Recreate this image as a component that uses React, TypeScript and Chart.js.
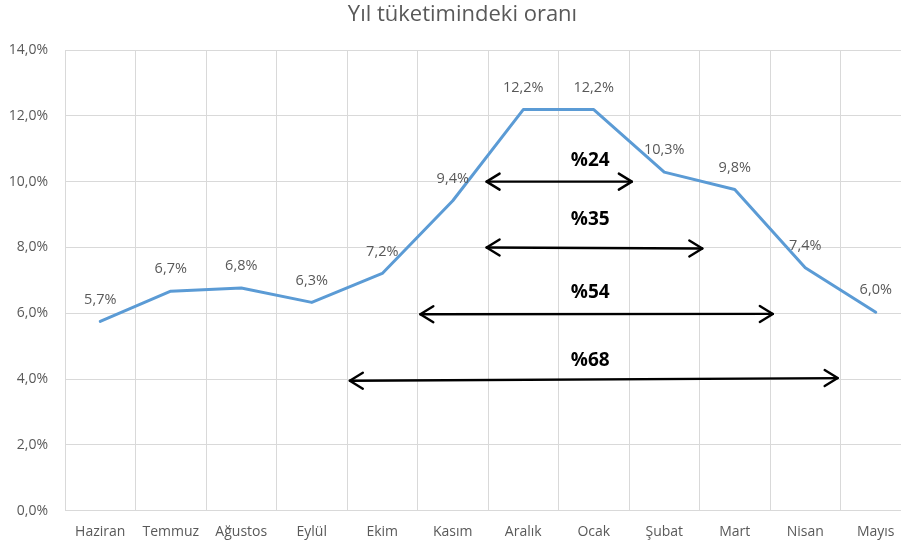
import React, { useEffect, useRef } from "react";
import { Chart, registerables } from "chart.js";

Chart.register(...registerables);

const titleText = "Yıl tüketimindeki oranı";
const months = ["Haziran", "Temmuz", "Ağustos", "Eylül", "Ekim", "Kasım", "Aralık", "Ocak", "Şubat", "Mart", "Nisan", "Mayıs"];
const shares = [5.75, 6.67, 6.77, 6.33, 7.21, 9.42, 12.19, 12.19, 10.29, 9.76, 7.38, 6.03];
const shareLabels = ["5,7%", "6,7%", "6,8%", "6,3%", "7,2%", "9,4%", "12,2%", "12,2%", "10,3%", "9,8%", "7,4%", "6,0%"];
const yTicks = [0, 2, 4, 6, 8, 10, 12, 14];

const arrowLabels = ["%24", "%35", "%54", "%68"];
const arrowStartX = [5.48, 5.48, 4.54, 3.54];
const arrowEndX = [7.54, 8.54, 9.54, 10.46];
const arrowStartY = [10.0, 8.0, 5.97, 3.95];
const arrowEndY = [10.0, 7.97, 5.98, 4.03];
const arrowLabelX = [6.95, 6.95, 6.95, 6.95];
const arrowLabelY = [10.64, 8.86, 6.63, 4.57];

const GREY = "#595959";
const FONT = "'Open Sans', sans-serif";

const titlePlugin = {
  id: "customTitle",
  afterDraw(chart: any) {
    const ctx = chart.ctx;
    ctx.save();
    ctx.font = `22px ${FONT}`;
    ctx.fillStyle = GREY;
    ctx.textAlign = "center";
    ctx.textBaseline = "middle";
    ctx.fillText(titleText, 462.5, 15);
    ctx.restore();
  },
};

const labelsPlugin = {
  id: "pointLabels",
  afterDatasetsDraw(chart: any) {
    const ctx = chart.ctx;
    const meta = chart.getDatasetMeta(0);
    ctx.save();
    ctx.font = `14.5px ${FONT}`;
    ctx.fillStyle = GREY;
    ctx.textAlign = "center";
    ctx.textBaseline = "middle";
    meta.data.forEach((pt: any, i: number) => {
      ctx.fillText(shareLabels[i], pt.x, pt.y - 22);
    });
    ctx.restore();
  },
};

const arrowsPlugin = {
  id: "arrows",
  afterDatasetsDraw(chart: any) {
    const ctx = chart.ctx;
    const xs = chart.scales.x;
    const ys = chart.scales.y;
    ctx.save();
    ctx.strokeStyle = "#000000";
    ctx.fillStyle = "#000000";
    ctx.lineWidth = 2.4;
    ctx.lineCap = "round";
    ctx.lineJoin = "round";
    const head = (x: number, y: number, dir: number) => {
      ctx.beginPath();
      ctx.moveTo(x - dir * 13, y - 8);
      ctx.lineTo(x, y);
      ctx.lineTo(x - dir * 13, y + 8);
      ctx.stroke();
    };
    arrowLabels.forEach((lab, i) => {
      const x1 = xs.getPixelForValue(arrowStartX[i]);
      const x2 = xs.getPixelForValue(arrowEndX[i]);
      const y1 = ys.getPixelForValue(arrowStartY[i]);
      const y2 = ys.getPixelForValue(arrowEndY[i]);
      ctx.beginPath();
      ctx.moveTo(x1, y1);
      ctx.lineTo(x2, y2);
      ctx.stroke();
      head(x1, y1, -1);
      head(x2, y2, 1);
      ctx.font = `bold 19px ${FONT}`;
      ctx.textAlign = "center";
      ctx.textBaseline = "middle";
      ctx.fillText(lab, xs.getPixelForValue(arrowLabelX[i]), ys.getPixelForValue(arrowLabelY[i]));
    });
    ctx.restore();
  },
};

export default function App() {
  const ref = useRef<HTMLCanvasElement>(null);
  useEffect(() => {
    if (!ref.current) return;
    const chart = new Chart(ref.current, {
      type: "line",
      data: {
        labels: months,
        datasets: [
          {
            data: shares,
            borderColor: "#5B9BD5",
            borderWidth: 3,
            pointRadius: 0,
            tension: 0,
            borderJoinStyle: "round",
            borderCapStyle: "round",
            fill: false,
          },
        ],
      },
      options: {
        responsive: false,
        animation: false,
        devicePixelRatio: 1,
        layout: { padding: { left: 0, right: 0, top: 50, bottom: 0 } },
        plugins: {
          legend: { display: false },
          tooltip: { enabled: false },
          title: { display: false },
        },
        scales: {
          x: {
            type: "category",
            offset: true,
            grid: { color: "#d9d9d9", offset: true, drawTicks: false },
            border: { color: "#d9d9d9" },
            ticks: {
              color: GREY,
              font: { family: FONT, size: 14 },
              padding: 13,
              maxRotation: 0,
              autoSkip: false,
            },
            afterFit(scale: any) {
              scale.height = 34.3;
            },
          },
          y: {
            min: 0,
            max: 14,
            afterBuildTicks(scale: any) {
              scale.ticks = yTicks.map((v) => ({ value: v }));
            },
            grid: { color: "#d9d9d9", drawTicks: false },
            border: { display: false },
            ticks: {
              color: GREY,
              font: { family: FONT, size: 14 },
              padding: 17,
              callback: (v: any) => Number(v).toFixed(1).replace(".", ",") + "%",
            },
            afterFit(scale: any) {
              scale.width = 65;
            },
          },
        },
      },
      plugins: [titlePlugin, labelsPlugin, arrowsPlugin],
    } as any);
    return () => chart.destroy();
  }, []);
  return (
    <div
      style={{
        position: "fixed",
        left: 0,
        top: 0,
        width: 901,
        height: 545,
        overflow: "hidden",
        background: "#ffffff",
      }}
    >
      <canvas ref={ref} width={911} height={545} style={{ display: "block", width: 911, height: 545 }} />
    </div>
  );
}
